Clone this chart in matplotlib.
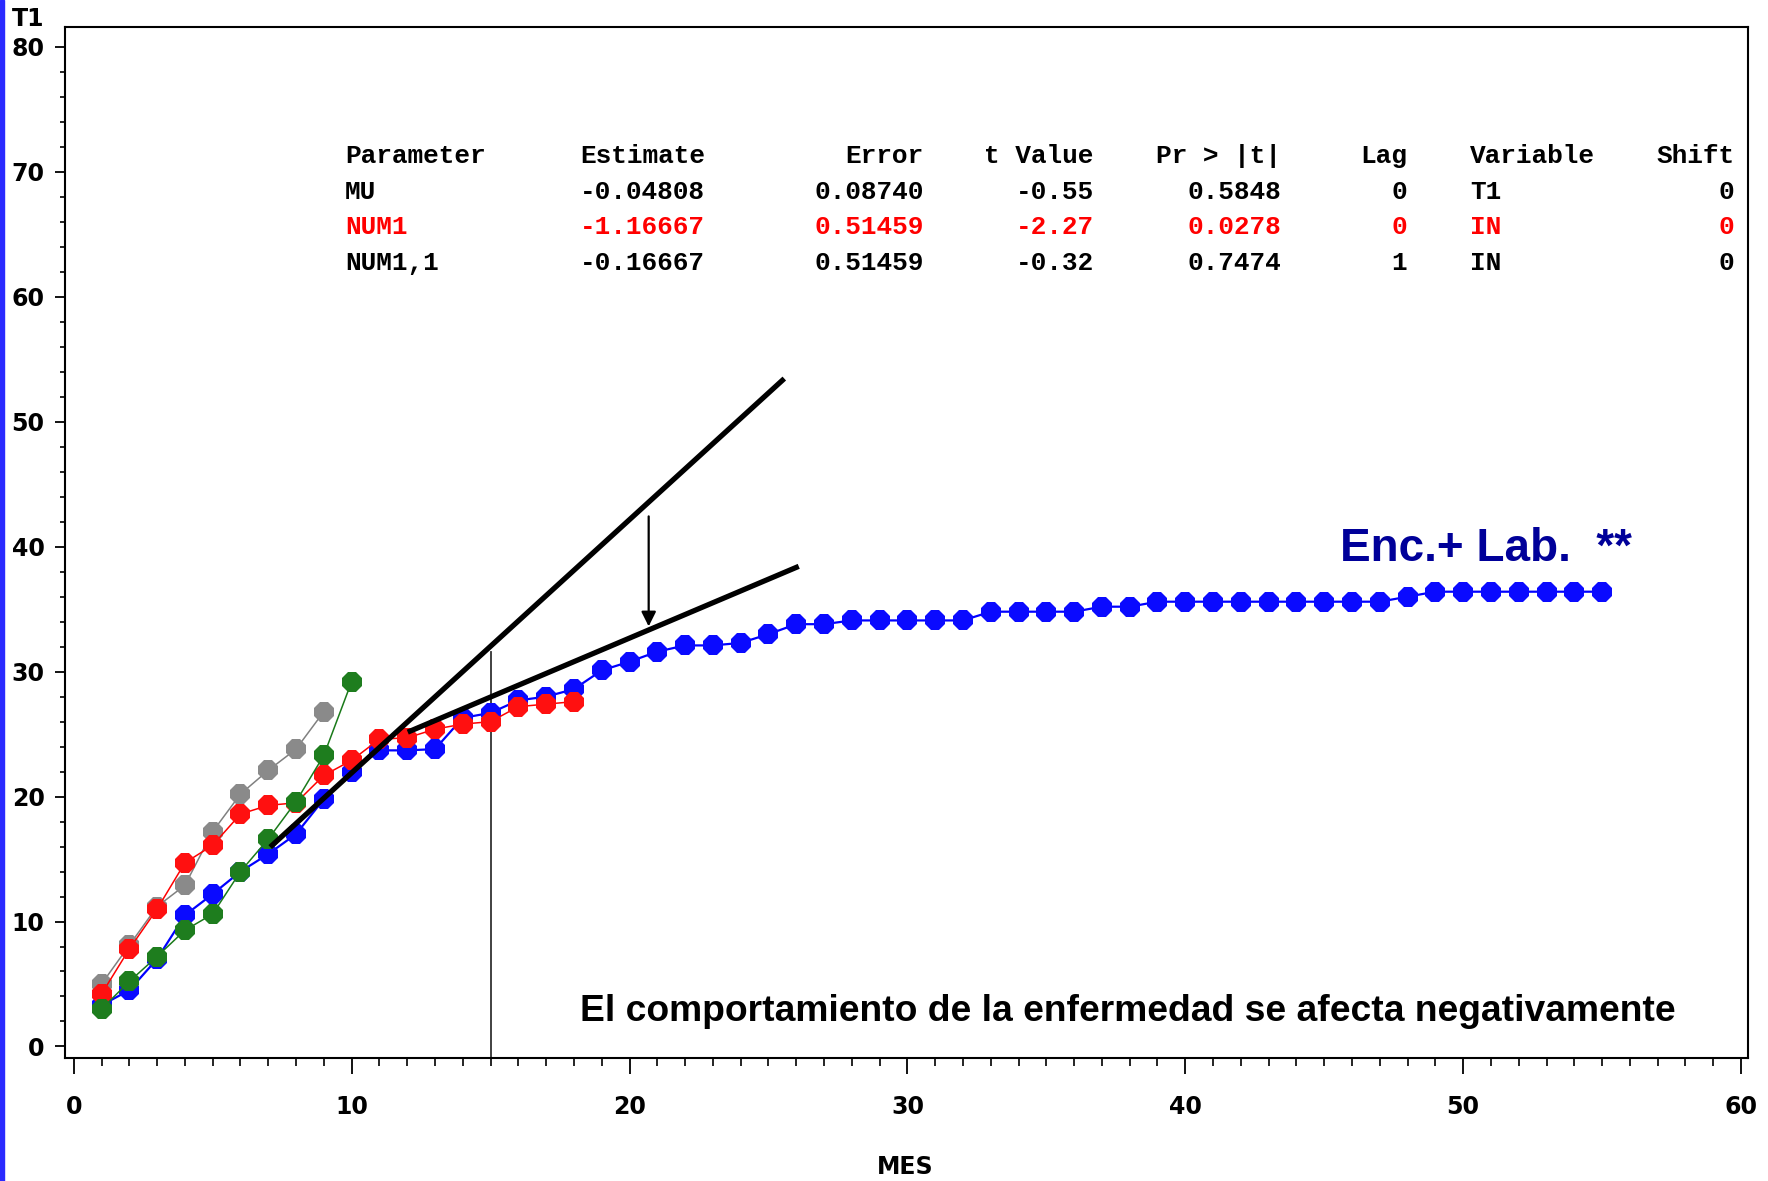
import numpy as np
import matplotlib.pyplot as plt
from matplotlib.patches import Rectangle
from matplotlib.ticker import MultipleLocator

# monthly series (MES vs T1)
months_blue = list(range(1, 56))
t1_blue = [3.3, 4.5, 7.0, 10.5, 12.2, 14.0, 15.4, 17.0, 19.8, 22.0,
           23.7, 23.7, 23.8, 26.3, 26.7, 27.7, 28.0, 28.6, 30.1, 30.8,
           31.6, 32.1, 32.1, 32.3, 33.0, 33.8, 33.8, 34.1, 34.1, 34.1,
           34.1, 34.1, 34.8, 34.8, 34.8, 34.8, 35.2, 35.2, 35.6, 35.6,
           35.6, 35.6, 35.6, 35.6, 35.6, 35.6, 35.6, 36.0, 36.4, 36.4,
           36.4, 36.4, 36.4, 36.4, 36.4]

months_gray = list(range(1, 10))
t1_gray = [5.0, 8.1, 11.2, 12.9, 17.2, 20.2, 22.1, 23.8, 26.8]

months_red = list(range(1, 19))
t1_red = [4.2, 7.8, 11.0, 14.7, 16.1, 18.6, 19.3, 19.5, 21.7, 22.9,
          24.6, 24.7, 25.4, 25.8, 26.0, 27.2, 27.4, 27.6]

months_green = list(range(1, 11))
t1_green = [3.0, 5.2, 7.2, 9.3, 10.6, 14.0, 16.6, 19.6, 23.3, 29.2]

# tangent lines and arrow (MES, T1)
steep_x = [7.07, 25.57]
steep_y = [15.96, 53.46]
shallow_x = [12.02, 26.09]
shallow_y = [25.16, 38.43]
arrow_x = 20.69
arrow_y = [42.65, 33.4]
intervention = 15
intervention_top = 31.6

# parameter table
table_header = ["Parameter", "Estimate", "Error", "t Value", "Pr > |t|", "Lag", "Variable", "Shift"]
table_rows = [
    ["MU", "-0.04808", "0.08740", "-0.55", "0.5848", "0", "T1", "0"],
    ["NUM1", "-1.16667", "0.51459", "-2.27", "0.0278", "0", "IN", "0"],
    ["NUM1,1", "-0.16667", "0.51459", "-0.32", "0.7474", "1", "IN", "0"],
]
row_colors = ["black", "#ff0000", "black"]

W, H = 1768, 1181
fig = plt.figure(figsize=(W / 100, H / 100), dpi=100)
ax = fig.add_axes([65.4 / W, 1 - 1057.7 / H, (1748 - 65.4) / W, (1057.7 - 27) / H])

def px(x, y):
    return x / W, 1 - y / H

mk = dict(marker='8', markersize=15, markeredgewidth=0)
ax.plot(months_blue, t1_blue, color='#0000ff', lw=1.6, markerfacecolor='#0a0aff', zorder=2, **mk)
ax.plot(months_gray, t1_gray, color='#808080', lw=1.1, markerfacecolor='#8a8a8a', zorder=3, **mk)
ax.plot(months_red, t1_red, color='#ff0000', lw=1.1, markerfacecolor='#ff1010', zorder=4, **mk)
ax.plot(months_green, t1_green, color='#1a7a1a', lw=1.1, markerfacecolor='#1e7d1e', zorder=5, **mk)

ax.plot(steep_x, steep_y, color='black', lw=3.8, solid_capstyle='butt', zorder=6)
ax.plot(shallow_x, shallow_y, color='black', lw=3.8, solid_capstyle='butt', zorder=6)
ax.annotate("", xy=(arrow_x, arrow_y[1]), xytext=(arrow_x, arrow_y[0]),
            arrowprops=dict(arrowstyle='-|>', color='black', lw=1.6,
                            mutation_scale=22), zorder=7)
ax.plot([intervention, intervention], [-0.9, intervention_top], color='#333333', lw=1.3, zorder=1)

ax.set_xlim(-0.3, 60.25)
ax.set_ylim(-0.9, 81.6)
ax.xaxis.set_major_locator(MultipleLocator(10))
ax.xaxis.set_minor_locator(MultipleLocator(1))
ax.yaxis.set_major_locator(MultipleLocator(10))
ax.yaxis.set_minor_locator(MultipleLocator(2))
for s in ax.spines.values():
    s.set_linewidth(1.5)
ax.tick_params(axis='x', which='major', direction='out', length=11.5, width=1.3, pad=15, labelsize=17)
ax.tick_params(axis='x', which='minor', direction='out', length=5.8, width=1.2)
ax.tick_params(axis='y', which='major', direction='out', length=7, width=1.3, pad=8, labelsize=17)
ax.tick_params(axis='y', which='minor', direction='out', length=3.5, width=1.2)
for lab in ax.get_xticklabels() + ax.get_yticklabels():
    lab.set_fontweight('bold')

fig.text(*px(28, 19), "T1", fontsize=17, fontweight='bold', ha='center', va='center')
fig.text(*px(905, 1167), "MES", fontsize=17, fontweight='bold', ha='center', va='center')

# table: (x position in px, alignment) per column
col_pos = [(345, 'left'), (704.8, 'right'), (923.5, 'right'), (1093.8, 'right'),
           (1281, 'right'), (1407.2, 'right'), (1470.4, 'left'), (1734.2, 'right')]
row_y = [155.6, 191.7, 226.7, 262.7]
tfont = dict(family='Liberation Mono', fontweight='bold', fontsize=18.8, va='center')
for (cx, ha), txt in zip(col_pos, table_header):
    fig.text(*px(cx, row_y[0]), txt, ha=ha, color='black', **tfont)
for r, (row, c) in enumerate(zip(table_rows, row_colors)):
    for (cx, ha), txt in zip(col_pos, row):
        fig.text(*px(cx, row_y[r + 1]), txt, ha=ha, color=c, **tfont)

fig.text(*px(1339.6, 549), "Enc.+ Lab.  **", family='Liberation Sans', fontweight='bold',
         fontsize=33, color='#000099', ha='left', va='center')
fig.text(*px(1127.6, 1011.5), "El comportamiento de la enfermedad se afecta negativamente",
         family='Liberation Sans', fontweight='bold', fontsize=26.8, color='black',
         ha='center', va='center')

fig.patches.append(Rectangle((0, 0), 4 / W, 1, transform=fig.transFigure,
                             color='#2a2aff', zorder=10))

fig.savefig("out.png", dpi=100)
